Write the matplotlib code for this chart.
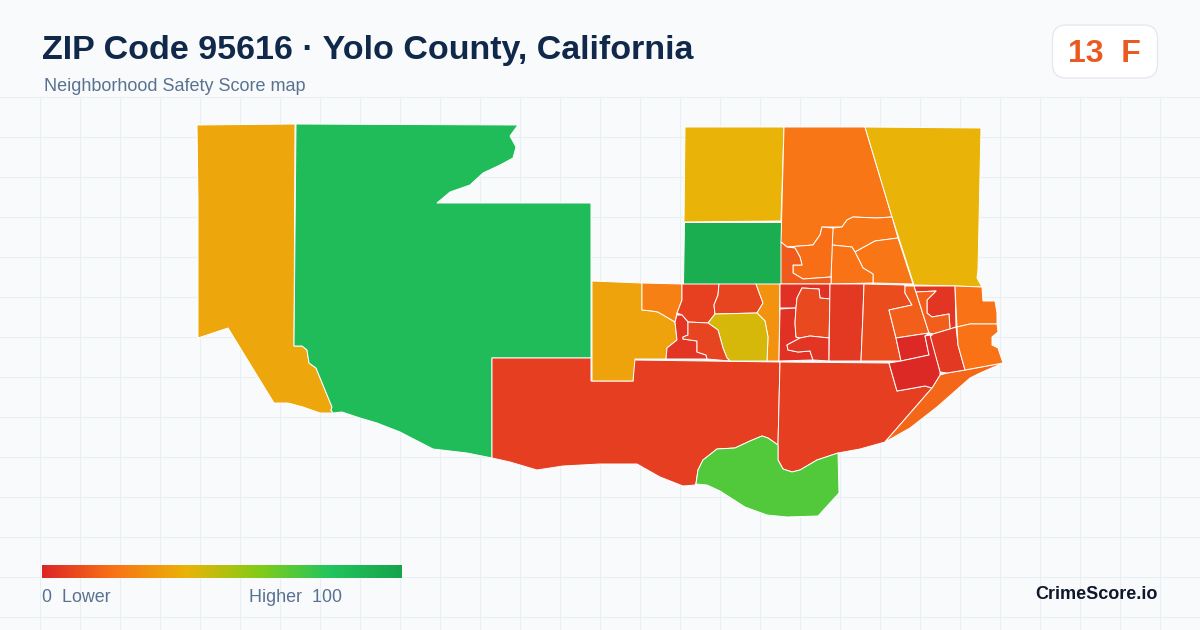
"""
ZIP code safety score map, drawn region by region
"""

import matplotlib
matplotlib.use('Agg')
import matplotlib.pyplot as plt
import numpy as np
from matplotlib.colors import LinearSegmentedColormap
from matplotlib.patches import FancyBboxPatch

# Region outlines (x, y in image pixels)
far_west = [(197, 125), (295, 124), (294, 346), (302, 346), (307, 350), (309, 363), (316, 368), (332, 407),
            (331, 410), (333, 413), (320, 413), (303, 407), (288, 403), (274, 403), (228, 328), (198, 338),
            (198, 200)]
west_green = [(296, 124), (518, 125), (510, 136), (516, 147), (513, 158), (500, 165), (483, 173), (470, 185),
              (450, 192), (437, 203), (591, 203), (591, 358), (492, 358), (492, 458), (467, 453), (433, 449),
              (400, 432), (377, 423), (360, 418), (342, 412), (333, 413), (331, 410), (332, 407), (316, 368),
              (309, 363), (307, 350), (302, 346), (294, 346)]
south_red = [(492, 358), (591, 358), (591, 381), (633, 381), (634, 360), (780, 362), (778, 445), (768, 438),
             (762, 436), (750, 441), (735, 448), (717, 449), (703, 460), (698, 470), (696, 483), (695, 485),
             (683, 486), (660, 477), (637, 464), (600, 464), (563, 466), (537, 470), (510, 462), (492, 458)]
south_mid = [(780, 362), (889, 363), (897, 391), (925, 386), (932, 388), (885, 442), (860, 449), (838, 453),
             (817, 460), (800, 470), (792, 472), (783, 469), (778, 460), (778, 445)]
south_lime = [(696, 484), (698, 470), (703, 460), (717, 449), (735, 448), (750, 441), (762, 436), (768, 438),
              (778, 445), (778, 460), (783, 469), (792, 472), (800, 470), (817, 460), (838, 453), (839, 493),
              (818, 516), (787, 517), (767, 515), (745, 507), (720, 491), (707, 485)]
coast_sliver = [(885, 442), (932, 388), (940, 375), (947, 373), (965, 370), (1003, 363), (980, 373), (970, 378),
                (937, 407), (910, 428)]
north_yellow = [(685, 127), (784, 127), (781, 221), (684, 222)]
north_green = [(684, 222), (781, 222), (781, 284), (683, 284)]
north_orange = [(784, 127), (865, 127), (892, 217), (877, 218), (853, 217), (847, 220), (842, 227), (822, 227),
                (820, 235), (813, 245), (787, 247), (781, 242)]
ne_yellow = [(865, 127), (981, 128), (978, 270), (977, 278), (982, 287), (955, 286), (914, 285), (892, 217)]
north_b = [(833, 228), (842, 227), (847, 220), (853, 217), (877, 218), (892, 217), (898, 238), (875, 241),
           (855, 252), (852, 247), (832, 245)]
north_c = [(855, 252), (875, 241), (898, 238), (913, 284), (873, 283), (873, 274), (863, 268)]
north_d = [(832, 245), (852, 247), (855, 252), (863, 268), (873, 274), (873, 283), (831, 284)]
north_e = [(787, 247), (813, 245), (820, 235), (822, 227), (833, 228), (831, 277), (803, 279), (793, 273),
           (793, 265), (802, 265), (800, 257), (795, 248)]
north_f = [(781, 242), (787, 247), (795, 248), (800, 257), (802, 265), (793, 265), (793, 273), (803, 279),
           (831, 277), (831, 284), (781, 284)]
mid_yellow = [(592, 281), (642, 283), (642, 310), (652, 311), (658, 312), (675, 322), (677, 340), (667, 348),
              (666, 359), (635, 359), (633, 381), (592, 381)]
mid_orange = [(642, 283), (682, 284), (682, 300), (677, 313), (675, 322), (658, 312), (652, 311), (642, 310)]
mid_red_a = [(682, 284), (719, 284), (718, 295), (714, 305), (715, 314), (708, 323), (688, 322), (682, 315),
             (677, 313), (682, 300)]
mid_red_b = [(719, 284), (756, 284), (763, 303), (757, 313), (715, 314), (714, 305), (718, 295)]
mid_amber = [(756, 284), (780, 284), (779, 361), (767, 361), (768, 337), (765, 321), (757, 313), (763, 303)]
centre_gold = [(715, 314), (757, 313), (765, 321), (768, 337), (767, 361), (730, 361), (727, 358), (723, 348),
               (718, 330), (708, 323)]
small_red = [(677, 315), (682, 315), (688, 322), (688, 335), (683, 337), (683, 339), (697, 341), (697, 352),
             (706, 355), (707, 359), (666, 359), (667, 348), (677, 340), (675, 322)]
small_red_b = [(688, 322), (708, 323), (718, 330), (723, 348), (727, 358), (730, 361), (707, 359), (706, 355),
               (697, 352), (697, 341), (683, 339), (683, 337), (688, 335)]
block_g = [(780, 284), (830, 284), (830, 299), (820, 298), (819, 289), (802, 288), (797, 298), (796, 308), (780, 308)]
block_h = [(780, 309), (796, 308), (795, 323), (796, 337), (800, 338), (787, 345), (788, 350), (798, 352),
           (810, 351), (813, 360), (779, 361)]
block_i = [(802, 288), (819, 289), (820, 298), (830, 299), (829, 338), (810, 336), (800, 338), (796, 337),
           (795, 323), (796, 308), (797, 298)]
block_j = [(800, 338), (810, 336), (829, 338), (829, 361), (813, 360), (810, 351), (798, 352), (788, 350), (787, 345)]
block_k = [(830, 284), (864, 284), (863, 313), (861, 361), (829, 361)]
block_l = [(864, 284), (905, 285), (905, 293), (912, 305), (889, 310), (896, 338), (901, 361), (861, 361), (863, 313)]
block_m = [(889, 310), (912, 305), (905, 293), (905, 286), (914, 286), (929, 333), (896, 338)]
block_n = [(914, 286), (955, 286), (956, 327), (950, 329), (949, 314), (932, 317), (927, 313), (927, 300),
           (936, 291), (916, 292)]
block_o = [(916, 292), (936, 291), (927, 300), (927, 313), (932, 317), (949, 314), (950, 329), (933, 334), (929, 333)]
block_p = [(933, 334), (950, 329), (956, 327), (958, 345), (965, 370), (947, 373), (940, 372), (930, 337)]
block_q = [(896, 338), (929, 333), (925, 336), (929, 355), (901, 361)]
block_r = [(889, 363), (901, 361), (929, 355), (925, 336), (930, 335), (940, 372), (940, 375), (932, 388),
           (925, 386), (897, 391)]
east_s = [(955, 286), (982, 287), (983, 301), (995, 301), (997, 313), (997, 324), (970, 324), (957, 327)]
east_t = [(957, 327), (970, 324), (997, 324), (998, 332), (992, 337), (992, 345), (998, 348), (1003, 363),
          (965, 370), (958, 345)]

regions = [far_west, west_green, south_red, south_mid, south_lime, coast_sliver, north_yellow, north_green,
           north_orange, ne_yellow, north_b, north_c, north_d, north_e, north_f, mid_yellow, mid_orange,
           mid_red_a, mid_red_b, mid_amber, centre_gold, small_red, small_red_b, block_g, block_h, block_i,
           block_j, block_k, block_l, block_m, block_n, block_o, block_p, block_q, block_r, east_s, east_t]
scores = [36, 85, 6.5, 6.5, 70, 17, 40, 93,
          21, 40, 21, 21, 20, 19, 14, 35, 24,
          7, 8, 30, 44, 4, 8, 3, 3, 9,
          4, 5, 10, 15, 4, 15, 5, 1, 1, 20, 20]

scale_stops = [0, 0.2, 0.4, 0.6, 0.8, 1]
scale_colors = ['#dc2626', '#f97316', '#eab308', '#84cc16', '#22c55e', '#16a34a']

BG = '#f8fafc'
GRID = '#e9f0f4'

score_cmap = LinearSegmentedColormap.from_list('score', list(zip(scale_stops, scale_colors)))


def draw_background(ax):
    """Faint grid below the header"""
    for x in np.arange(40, 1200, 40):
        ax.plot([x, x], [97, 630], color=GRID, lw=0.75, zorder=1)
    for y in np.arange(97, 630, 40):
        ax.plot([0, 1200], [y, y], color=GRID, lw=0.75, zorder=1)


def draw_map(ax):
    """Fill each region with its score colour"""
    for outline, score in zip(regions, scores):
        xs, ys = zip(*outline)
        ax.fill(xs, ys, facecolor=score_cmap(score / 100), edgecolor='white', lw=0.7,
                joinstyle='round', zorder=2)


def draw_header(ax):
    ax.text(42, 59, 'ZIP Code 95616 · Yolo County, California', fontsize=24.45, fontweight='bold',
            color='#10294a', va='baseline', ha='left')
    ax.text(44, 91, 'Neighborhood Safety Score map', fontsize=12.95, color='#5a7291', va='baseline', ha='left')
    badge = FancyBboxPatch((1052.5, 25), 105, 53, boxstyle='round,pad=0,rounding_size=14',
                           fc='white', ec='#e2e8f0', lw=0.9, zorder=3)
    ax.add_patch(badge)
    ax.text(1104.5, 62, '13  F', fontsize=23, fontweight='bold', color='#ea5a20', ha='center',
            va='baseline', zorder=4)


def draw_legend(ax):
    ramp = np.linspace(0, 1, 256).reshape(1, -1)
    ax.imshow(ramp, cmap=score_cmap, extent=(42, 402, 578, 565), aspect='auto', zorder=3)
    ax.text(42, 602, '0  Lower', fontsize=12.9, color='#5a7291', va='baseline', ha='left')
    ax.text(249, 602, 'Higher  100', fontsize=12.9, color='#5a7291', va='baseline', ha='left')
    ax.text(1158, 599, 'CrimeScore.io', fontsize=13, fontweight='bold', color='#0f172a',
            va='baseline', ha='right')


def main():
    plt.rcParams['font.family'] = ['Liberation Sans', 'DejaVu Sans']
    fig = plt.figure(figsize=(12, 6.3), dpi=100, facecolor=BG)
    ax = fig.add_axes([0, 0, 1, 1])
    ax.set_facecolor(BG)

    draw_background(ax)
    draw_map(ax)
    draw_header(ax)
    draw_legend(ax)

    ax.set_xlim(0, 1200)
    ax.set_ylim(630, 0)
    ax.axis('off')

    fig.savefig('out.png', dpi=100, facecolor=BG)
    plt.close(fig)


if __name__ == '__main__':
    main()
